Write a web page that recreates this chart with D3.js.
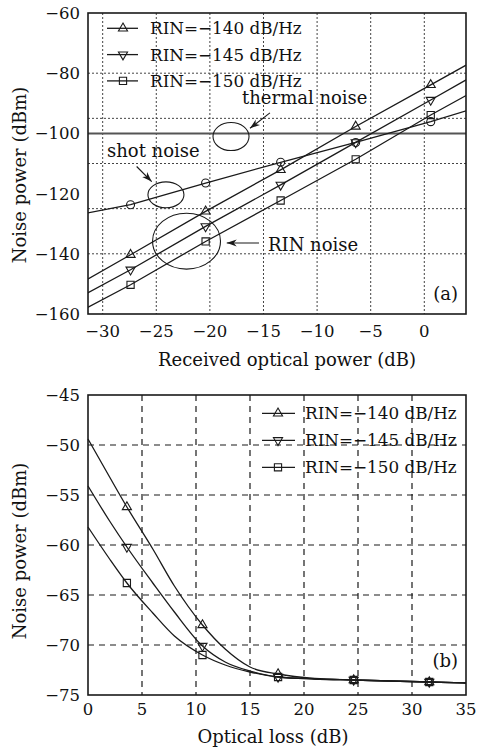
<!DOCTYPE html>
<html>
<head>
<meta charset="utf-8">
<script src="https://cdn.jsdelivr.net/npm/d3@7"></script>
<style>
  body { margin: 0; background: #fff; }
  svg text { font-family: "DejaVu Serif", serif; fill: #111; }
</style>
</head>
<body>
<div id="chart"></div>
<script>
// (a) received optical power vs noise power
const powerX = [-31.4, -27.4, -20.4, -13.4, -6.4, 0.6, 3.9];
const rin140a = [-148.4, -140.3, -125.9, -112.1, -97.7, -83.9, -77.3];
const rin145a = [-153.0, -145.3, -130.9, -117.1, -103.0, -88.9, -82.2];
const rin150a = [-157.8, -150.3, -135.9, -122.3, -108.6, -93.9, -87.4];
const shotNoise = [-126.4, -123.7, -116.5, -109.6, -103.0, -96.1, -92.5];
const thermalNoise = -100;
const powerTicks = [-30, -25, -20, -15, -10, -5, 0];
const noiseTicksA = [-60, -80, -100, -120, -140, -160];
const hGridA = [-80, -95, -110, -125, -140];

// (b) optical loss vs noise power
const lossX = [0, 2, 3.6, 6, 8, 10.6, 12.7, 15, 17.6, 21, 24.6, 28, 31.6, 35];
const lossMarkers = [3.6, 10.6, 17.6, 24.6, 31.6];
const rin140b = [-49.4, -53.2, -56.2, -60.4, -64.1, -68.0, -70.4, -72.2, -72.9, -73.35, -73.5, -73.6, -73.7, -73.8];
const rin145b = [-54.1, -57.6, -60.2, -63.8, -66.7, -70.1, -71.7, -72.6, -73.2, -73.4, -73.5, -73.6, -73.7, -73.8];
const rin150b = [-58.2, -61.4, -63.8, -66.8, -69.1, -71.0, -72.0, -72.7, -73.2, -73.4, -73.5, -73.6, -73.7, -73.8];
const lossTicks = [0, 5, 10, 15, 20, 25, 30, 35];
const noiseTicksB = [-45, -50, -55, -60, -65, -70, -75];

const legendLabels = ['RIN=\u2212140 dB/Hz', 'RIN=\u2212145 dB/Hz', 'RIN=\u2212150 dB/Hz'];
const symbols = ['up', 'down', 'square'];

const width = 477, height = 749;
const ink = '#1a1a1a';

const svg = d3.select('#chart').append('svg')
    .attr('width', width)
    .attr('height', height);

const defs = svg.append('defs');
defs.append('marker')
    .attr('id', 'arrow')
    .attr('viewBox', '0 0 10 10')
    .attr('refX', 10).attr('refY', 5)
    .attr('markerWidth', 10).attr('markerHeight', 10)
    .attr('markerUnits', 'userSpaceOnUse')
    .attr('orient', 'auto')
    .append('path')
    .attr('d', 'M0,1.5 L10,5 L0,8.5 L3,5 Z')
    .attr('fill', ink);

// marker shapes
function drawSymbol(g, type, x, y) {
    if (type === 'circle') {
        g.append('circle').attr('cx', x).attr('cy', y).attr('r', 4)
            .attr('fill', 'none').attr('stroke', ink).attr('stroke-width', 1.1);
        return;
    }
    let sym = type === 'square' ? d3.symbolSquare : d3.symbolTriangle;
    let size = type === 'square' ? 52 : 36;
    g.append('path')
        .attr('d', d3.symbol().type(sym).size(size)())
        .attr('transform', `translate(${x},${y})` + (type === 'down' ? ' rotate(180)' : ''))
        .attr('fill', 'none')
        .attr('stroke', ink)
        .attr('stroke-width', 1.1);
}

// ---------- (a) ----------
const boxA = { left: 88, right: 466, top: 13, bottom: 314 };
const xA = d3.scaleLinear().domain([-31.37, 3.89]).range([boxA.left, boxA.right]);
const yA = d3.scaleLinear().domain([-160, -60]).range([boxA.bottom, boxA.top]);

const gA = svg.append('g');

defs.append('clipPath').attr('id', 'clipA').append('rect')
    .attr('x', boxA.left).attr('y', boxA.top)
    .attr('width', boxA.right - boxA.left).attr('height', boxA.bottom - boxA.top);

// dotted grid
gA.selectAll('.vgrid')
    .data(powerTicks)
    .enter().append('line')
    .attr('x1', d => xA(d)).attr('x2', d => xA(d))
    .attr('y1', boxA.top).attr('y2', boxA.bottom)
    .attr('stroke', '#444').attr('stroke-width', 1).attr('stroke-dasharray', '2,2');

gA.selectAll('.hgrid')
    .data(hGridA)
    .enter().append('line')
    .attr('x1', boxA.left).attr('x2', boxA.right)
    .attr('y1', d => yA(d)).attr('y2', d => yA(d))
    .attr('stroke', '#444').attr('stroke-width', 1).attr('stroke-dasharray', '2,2');

// thermal noise
gA.append('line')
    .attr('x1', boxA.left).attr('x2', boxA.right)
    .attr('y1', yA(thermalNoise)).attr('y2', yA(thermalNoise))
    .attr('stroke', '#555').attr('stroke-width', 2);

const lineA = d3.line().x(d => xA(d[0])).y(d => yA(d[1]));
const seriesA = [
    { vals: rin140a, sym: 'up' },
    { vals: rin145a, sym: 'down' },
    { vals: rin150a, sym: 'square' },
    { vals: shotNoise, sym: 'circle' }
];

const plotA = gA.append('g').attr('clip-path', 'url(#clipA)');
seriesA.forEach(s => {
    const pts = powerX.map((x, i) => [x, s.vals[i]]);
    plotA.append('path')
        .attr('d', lineA(pts))
        .attr('fill', 'none')
        .attr('stroke', ink)
        .attr('stroke-width', 1.3);
    pts.slice(1, -1).forEach(p => drawSymbol(gA, s.sym, xA(p[0]), yA(p[1])));
});

// box
gA.append('rect')
    .attr('x', boxA.left).attr('y', boxA.top)
    .attr('width', boxA.right - boxA.left).attr('height', boxA.bottom - boxA.top)
    .attr('fill', 'none').attr('stroke', ink).attr('stroke-width', 1.6);

// tick labels
gA.selectAll('.ylab')
    .data(noiseTicksA)
    .enter().append('text')
    .attr('x', 80).attr('y', d => yA(d))
    .attr('dy', '0.36em')
    .attr('text-anchor', 'end')
    .style('font-size', '16.5px')
    .text(d => String(d).replace('-', '\u2212'));

gA.selectAll('.xlab')
    .data(powerTicks)
    .enter().append('text')
    .attr('x', d => xA(d)).attr('y', 337)
    .attr('text-anchor', 'middle')
    .style('font-size', '16.5px')
    .text(d => String(d).replace('-', '\u2212'));

gA.append('text')
    .attr('x', 287).attr('y', 366)
    .attr('text-anchor', 'middle')
    .style('font-size', '18px')
    .text('Received optical power (dB)');

gA.append('text')
    .attr('transform', 'translate(26,175) rotate(-90)')
    .attr('text-anchor', 'middle')
    .style('font-size', '18px')
    .text('Noise power (dBm)');

// legend (a)
legendLabels.forEach((lab, i) => {
    const ly = 28.3 + i * 26.3;
    gA.append('line').attr('x1', 107).attr('x2', 138).attr('y1', ly).attr('y2', ly)
        .attr('stroke', ink).attr('stroke-width', 1.3);
    drawSymbol(gA, symbols[i], 123, ly);
    gA.append('text').attr('x', 150).attr('y', ly).attr('dy', '0.36em')
        .style('font-size', '16.8px').text(lab);
});

// annotations
function note(g, sx, sy, ex, ey) {
    g.append('line')
        .attr('x1', sx).attr('y1', sy).attr('x2', ex).attr('y2', ey)
        .attr('stroke', ink).attr('stroke-width', 1.1)
        .attr('marker-end', 'url(#arrow)');
}
const ellipses = [
    { cx: -18.03, cy: -101.05, rx: 1.68, ry: 4.65 },
    { cx: -24.1, cy: -120.4, rx: 1.68, ry: 4.31 },
    { cx: -22.18, cy: -135.8, rx: 3.17, ry: 9.29 }
];
gA.selectAll('.ell')
    .data(ellipses)
    .enter().append('ellipse')
    .attr('cx', d => xA(d.cx)).attr('cy', d => yA(d.cy))
    .attr('rx', d => xA(d.cx + d.rx) - xA(d.cx))
    .attr('ry', d => yA(d.cy - d.ry) - yA(d.cy))
    .attr('fill', 'none').attr('stroke', ink).attr('stroke-width', 1.1);

note(gA, xA(-14.4), yA(-93.2), xA(-16.26), yA(-98.3));
note(gA, xA(-26.83), yA(-111.0), xA(-25.43), yA(-116.0));
note(gA, xA(-15.42), yA(-136.4), xA(-18.43), yA(-136.4));

gA.append('text').attr('x', xA(-17.0)).attr('y', yA(-90.2))
    .style('font-size', '18px').text('thermal noise');
gA.append('text').attr('x', xA(-29.6)).attr('y', yA(-107.8))
    .style('font-size', '18px').text('shot noise');
gA.append('text').attr('x', xA(-14.58)).attr('y', yA(-139.2))
    .style('font-size', '18px').text('RIN noise');
gA.append('text').attr('x', boxA.right - 8).attr('y', boxA.bottom - 14)
    .attr('text-anchor', 'end')
    .style('font-size', '18px').text('(a)');

// ---------- (b) ----------
const boxB = { left: 88, right: 466, top: 395, bottom: 695 };
const xB = d3.scaleLinear().domain([0, 35]).range([boxB.left, boxB.right]);
const yB = d3.scaleLinear().domain([-75, -45]).range([boxB.bottom, boxB.top]);

const gB = svg.append('g');

gB.selectAll('.vgrid')
    .data(lossTicks.slice(1, -1))
    .enter().append('line')
    .attr('x1', d => xB(d)).attr('x2', d => xB(d))
    .attr('y1', boxB.top).attr('y2', boxB.bottom)
    .attr('stroke', ink).attr('stroke-width', 1.2).attr('stroke-dasharray', '6,5');

gB.selectAll('.hgrid')
    .data(noiseTicksB.slice(1, -1))
    .enter().append('line')
    .attr('x1', boxB.left).attr('x2', boxB.right)
    .attr('y1', d => yB(d)).attr('y2', d => yB(d))
    .attr('stroke', ink).attr('stroke-width', 1.2).attr('stroke-dasharray', '6,5');

const lineB = d3.line().curve(d3.curveMonotoneX).x(d => xB(d[0])).y(d => yB(d[1]));
const seriesB = [
    { vals: rin140b, sym: 'up' },
    { vals: rin145b, sym: 'down' },
    { vals: rin150b, sym: 'square' }
];
seriesB.forEach(s => {
    const pts = lossX.map((x, i) => [x, s.vals[i]]);
    gB.append('path')
        .attr('d', lineB(pts))
        .attr('fill', 'none')
        .attr('stroke', ink)
        .attr('stroke-width', 1.3);
    pts.filter(p => lossMarkers.includes(p[0]))
        .forEach(p => drawSymbol(gB, s.sym, xB(p[0]), yB(p[1])));
});

gB.append('rect')
    .attr('x', boxB.left).attr('y', boxB.top)
    .attr('width', boxB.right - boxB.left).attr('height', boxB.bottom - boxB.top)
    .attr('fill', 'none').attr('stroke', ink).attr('stroke-width', 1.6);

gB.selectAll('.ylab')
    .data(noiseTicksB)
    .enter().append('text')
    .attr('x', 80).attr('y', d => yB(d))
    .attr('dy', '0.36em')
    .attr('text-anchor', 'end')
    .style('font-size', '16.5px')
    .text(d => String(d).replace('-', '\u2212'));

gB.selectAll('.xlab')
    .data(lossTicks)
    .enter().append('text')
    .attr('x', d => xB(d)).attr('y', 715)
    .attr('text-anchor', 'middle')
    .style('font-size', '16.5px')
    .text(d => d);

gB.append('text')
    .attr('x', 273).attr('y', 743)
    .attr('text-anchor', 'middle')
    .style('font-size', '18px')
    .text('Optical loss (dB)');

gB.append('text')
    .attr('transform', 'translate(26,551) rotate(-90)')
    .attr('text-anchor', 'middle')
    .style('font-size', '18px')
    .text('Noise power (dBm)');

legendLabels.forEach((lab, i) => {
    const ly = 413.3 + i * 27;
    gB.append('line').attr('x1', 262).attr('x2', 295).attr('y1', ly).attr('y2', ly)
        .attr('stroke', ink).attr('stroke-width', 1.3);
    drawSymbol(gB, symbols[i], 278, ly);
    gB.append('text').attr('x', 305).attr('y', ly).attr('dy', '0.36em')
        .style('font-size', '16.8px').text(lab);
});

gB.append('text').attr('x', boxB.right - 8).attr('y', boxB.bottom - 28)
    .attr('text-anchor', 'end')
    .style('font-size', '18px').text('(b)');
</script>
</body>
</html>
